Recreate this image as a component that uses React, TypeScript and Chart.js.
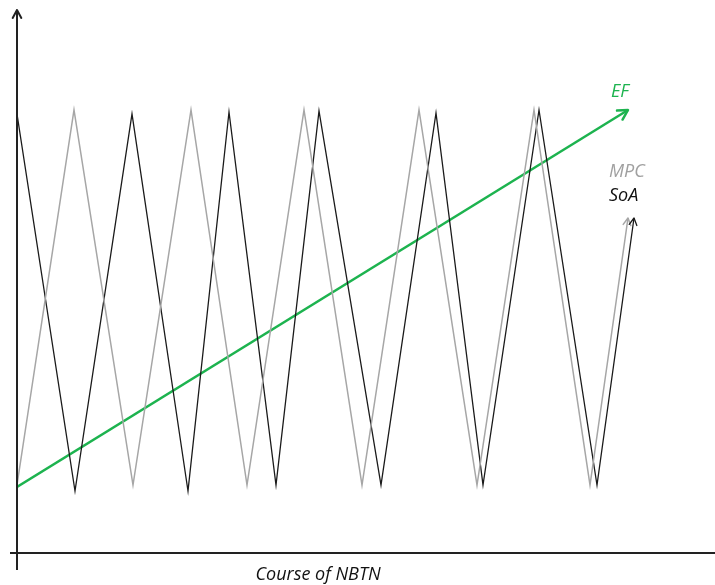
import React, { useEffect, useRef } from "react";
import { Chart, registerables } from "chart.js";

Chart.register(...registerables);

// x: course position, y: level (arbitrary units)
const mpcX = [0, 57, 116, 174, 230, 287, 345, 402, 460, 517, 573, 611];
const mpcY = [68, 443, 68, 443, 68, 443, 68, 443, 68, 443, 68, 335];
const soaX = [0, 58, 115, 171, 212, 259, 302, 364, 419, 466, 522, 580, 617];
const soaY = [439, 62, 439, 62, 441, 68, 442, 68, 440, 68, 443, 68, 335];
const efX = [0, 611];
const efY = [66, 443];
const seriesLabels = ["MPC", "SoA", "EF"];
const axisTitle = "Course of NBTN";

const toPts = (xs: number[], ys: number[]) => xs.map((x, i) => ({ x, y: ys[i] }));

const FONT = "italic 18px 'Open Sans', 'DejaVu Sans', sans-serif";

function arrowHead(ctx: CanvasRenderingContext2D, x0: number, y0: number, x1: number, y1: number, size: number, color: string, lw: number) {
  const a = Math.atan2(y1 - y0, x1 - x0);
  ctx.save();
  ctx.strokeStyle = color;
  ctx.lineWidth = lw;
  ctx.lineCap = "round";
  ctx.lineJoin = "round";
  ctx.beginPath();
  ctx.moveTo(x1 - size * Math.cos(a - 0.5), y1 - size * Math.sin(a - 0.5));
  ctx.lineTo(x1, y1);
  ctx.lineTo(x1 - size * Math.cos(a + 0.5), y1 - size * Math.sin(a + 0.5));
  ctx.stroke();
  ctx.restore();
}

const decorPlugin = {
  id: "decor",
  afterDatasetsDraw(chart: any) {
    const ctx: CanvasRenderingContext2D = chart.ctx;
    const xs = chart.scales.x;
    const ys = chart.scales.y;
    const area = chart.chartArea;
    // axes
    ctx.save();
    ctx.strokeStyle = "#222";
    ctx.lineWidth = 2;
    ctx.beginPath();
    ctx.moveTo(area.left, area.bottom + 17);
    ctx.lineTo(area.left, area.top);
    ctx.moveTo(area.left - 7, area.bottom);
    ctx.lineTo(area.right, area.bottom);
    ctx.stroke();
    ctx.restore();
    arrowHead(ctx, area.left, area.bottom, area.left, area.top, 9, "#222", 2);

    // arrow heads at series ends
    chart.data.datasets.forEach((ds: any, i: number) => {
      const meta = chart.getDatasetMeta(i);
      const n = meta.data.length;
      const p0 = meta.data[n - 2];
      const p1 = meta.data[n - 1];
      arrowHead(ctx, p0.x, p0.y, p1.x, p1.y, ds.headSize, ds.borderColor, ds.borderWidth);
    });

    // labels
    ctx.save();
    ctx.font = FONT;
    ctx.textBaseline = "middle";
    ctx.textAlign = "left";
    ctx.fillStyle = "#1db34f";
    ctx.fillText(seriesLabels[2], xs.getPixelForValue(594), ys.getPixelForValue(461));
    ctx.fillStyle = "#a0a0a0";
    ctx.fillText(seriesLabels[0], xs.getPixelForValue(592), ys.getPixelForValue(381));
    ctx.fillStyle = "#111";
    ctx.fillText(seriesLabels[1], xs.getPixelForValue(592), ys.getPixelForValue(357));
    ctx.textAlign = "center";
    ctx.fillText(axisTitle, xs.getPixelForValue(301), area.bottom + 22);
    ctx.restore();
  },
};

export default function App() {
  const ref = useRef<HTMLCanvasElement>(null);
  useEffect(() => {
    if (!ref.current) return;
    const chart = new Chart(ref.current, {
      type: "line",
      data: {
        datasets: [
          {
            label: seriesLabels[0],
            data: toPts(mpcX, mpcY),
            borderColor: "#a6a6a6",
            borderWidth: 1.5,
            pointRadius: 0,
            tension: 0,
            headSize: 8,
          } as any,
          {
            label: seriesLabels[1],
            data: toPts(soaX, soaY),
            borderColor: "#1a1a1a",
            borderWidth: 1.3,
            pointRadius: 0,
            tension: 0,
            headSize: 8,
          } as any,
          {
            label: seriesLabels[2],
            data: toPts(efX, efY),
            borderColor: "#1db34f",
            borderWidth: 2.5,
            pointRadius: 0,
            tension: 0,
            headSize: 11,
          } as any,
        ],
      },
      options: {
        animation: false,
        responsive: false,
        devicePixelRatio: 1,
        layout: { padding: { left: 17, right: 0, top: 10, bottom: 32 } },
        plugins: { legend: { display: false }, tooltip: { enabled: false } },
        scales: {
          x: { type: "linear", min: 0, max: 698, display: false },
          y: { type: "linear", min: 0, max: 543, display: false },
        },
      },
      plugins: [decorPlugin],
    });
    return () => chart.destroy();
  }, []);
  return (
    <div style={{ position: "fixed", left: 0, top: 0, width: 715, height: 585, background: "#fff" }}>
      <canvas ref={ref} width={715} height={585} />
    </div>
  );
}
